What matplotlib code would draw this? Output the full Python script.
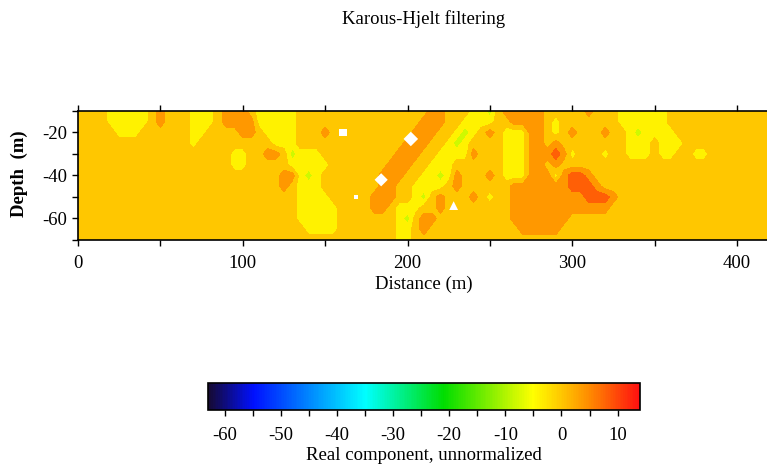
import numpy as np
import matplotlib
matplotlib.use('Agg')
import matplotlib.pyplot as plt
from matplotlib.colors import LinearSegmentedColormap, Normalize
from matplotlib.cm import ScalarMappable
from matplotlib.ticker import MultipleLocator

plt.rcParams['font.family'] = ['Liberation Serif', 'DejaVu Serif']
plt.rcParams['axes.unicode_minus'] = False

# grid of the section (m)
distance = np.arange(0, 425, 5)
depth = np.arange(-10, -75, -5)

# value of each colour class
code_value = {'y': -4, 'g': -8, 'o': 4, 'r': 8, 'R': 12}

# anomalies per depth row: (from x, to x, class); everything else is background (~0)
row_m10 = [(20, 40, 'y'), (50, 50, 'o'), (70, 80, 'y'), (90, 100, 'o'), (110, 130, 'y'),
           (215, 220, 'o'), (240, 245, 'y'), (250, 250, 'g'), (260, 280, 'o'),
           (310, 310, 'o'), (330, 355, 'y')]
row_m15 = [(20, 40, 'y'), (50, 50, 'o'), (70, 80, 'y'), (90, 105, 'o'), (110, 130, 'y'),
           (210, 220, 'o'), (235, 250, 'y'), (265, 280, 'o'), (290, 290, 'y'),
           (330, 355, 'y')]
row_m20 = [(25, 35, 'y'), (70, 75, 'y'), (100, 105, 'o'), (115, 130, 'y'), (150, 150, 'o'),
           (205, 215, 'o'), (230, 240, 'y'), (235, 235, 'g'), (250, 250, 'o'),
           (260, 270, 'y'), (275, 280, 'o'), (290, 290, 'y'), (300, 300, 'o'),
           (320, 320, 'o'), (335, 360, 'y'), (340, 340, 'g')]
row_m25 = [(70, 70, 'y'), (120, 130, 'y'), (200, 210, 'o'), (225, 235, 'y'), (230, 230, 'g'),
           (260, 270, 'y'), (275, 280, 'o'), (290, 290, 'o'), (335, 345, 'y'),
           (355, 365, 'y')]
row_m30 = [(95, 100, 'y'), (115, 120, 'o'), (130, 145, 'y'), (130, 130, 'g'), (195, 205, 'o'),
           (220, 235, 'y'), (240, 240, 'o'), (260, 270, 'y'), (275, 285, 'o'),
           (290, 290, 'r'), (295, 295, 'o'), (300, 300, 'y'), (320, 320, 'y'),
           (335, 345, 'y'), (355, 360, 'y'), (375, 380, 'y')]
row_m35 = [(95, 100, 'y'), (130, 150, 'y'), (190, 200, 'o'), (215, 225, 'y'), (260, 270, 'y'),
           (275, 280, 'o'), (290, 290, 'o')]
row_m40 = [(125, 130, 'o'), (135, 145, 'y'), (140, 140, 'g'), (185, 195, 'o'), (210, 225, 'y'),
           (220, 220, 'g'), (230, 230, 'o'), (250, 250, 'o'), (260, 270, 'y'),
           (275, 285, 'o'), (290, 290, 'y'), (295, 295, 'o'), (300, 305, 'r'),
           (310, 310, 'o')]
row_m45 = [(125, 125, 'o'), (135, 145, 'y'), (185, 190, 'o'), (205, 220, 'y'), (230, 230, 'o'),
           (265, 295, 'o'), (300, 310, 'r'), (315, 315, 'o')]
row_m50 = [(135, 150, 'y'), (180, 190, 'o'), (205, 205, 'y'), (210, 210, 'g'), (220, 220, 'o'),
           (240, 240, 'o'), (250, 250, 'y'), (265, 305, 'o'), (310, 320, 'r'),
           (325, 325, 'o')]
row_m55 = [(135, 155, 'y'), (180, 185, 'o'), (195, 205, 'y'), (220, 220, 'o'), (265, 320, 'o')]
row_m60 = [(135, 155, 'y'), (195, 195, 'y'), (200, 200, 'g'), (210, 215, 'o'), (265, 295, 'o')]
row_m65 = [(140, 155, 'y'), (195, 200, 'y'), (210, 210, 'o'), (270, 290, 'o')]
row_m70 = [(195, 200, 'y')]

rows = [row_m10, row_m15, row_m20, row_m25, row_m30, row_m35, row_m40,
        row_m45, row_m50, row_m55, row_m60, row_m65, row_m70]

# blanked (no data) spots
blank_x = [161, 184, 169, 202, 228]
blank_d = [-20, -42, -50, -23, -54]

field = np.zeros((len(depth), len(distance)))
for j, runs in enumerate(rows):
    for x0, x1, c in runs:
        field[j, (distance >= x0) & (distance <= x1)] = code_value[c]

# colour scale
vmin, vmax = -63, 14
nodes = [(-63, '#160a32'), (-55, '#0010ff'), (-35, '#00ffff'), (-21, '#00dd00'),
         (-5, '#ffff00'), (0, '#ffc800'), (5, '#ff8c00'), (14, '#ff1010')]
cmap = LinearSegmentedColormap.from_list(
    'kh', [((v - vmin) / (vmax - vmin), c) for v, c in nodes])
norm = Normalize(vmin=vmin, vmax=vmax)
levels = [-14, -10, -6, -2, 2, 6, 10, 14]

fig = plt.figure(figsize=(7.67, 4.68), dpi=100)
ax = fig.add_axes([78 / 767, 1 - 240 / 468, 692 / 767, 129 / 468])
ax.contourf(distance, depth, field, levels=levels, cmap=cmap, norm=norm)

blank_marker = ['s', 'D', 's', 'D', '^']
blank_size = [30, 45, 8, 55, 40]
for bx, bd, m, s in zip(blank_x, blank_d, blank_marker, blank_size):
    ax.scatter(bx, bd, marker=m, s=s, c='white', edgecolors='none', zorder=3)

ax.set_xlim(0, 420)
ax.set_ylim(-70, -10)
ax.xaxis.set_major_locator(MultipleLocator(100))
ax.xaxis.set_minor_locator(MultipleLocator(50))
ax.yaxis.set_minor_locator(MultipleLocator(10))
ax.set_yticks([-20, -40, -60])
ax.tick_params(which='both', direction='out', length=4.5, width=1,
               top=True, labelsize=13.5)
ax.tick_params(axis='x', pad=6)
ax.tick_params(axis='y', pad=3)
for sp in ax.spines.values():
    sp.set_linewidth(1.2)

fig.text(424 / 767, 1 - 19 / 468, 'Karous-Hjelt filtering', ha='center', va='center',
         fontsize=13.5)
fig.text(424 / 767, 1 - 284 / 468, 'Distance (m)', ha='center', va='center',
         fontsize=13.5)
fig.text(19 / 767, 1 - 174 / 468, 'Depth  (m)', ha='center', va='center',
         rotation=90, fontsize=13.5, fontweight='bold')

# colour bar
cax = fig.add_axes([208 / 767, 1 - 410 / 468, 432 / 767, 27 / 468])
sm = ScalarMappable(norm=norm, cmap=cmap)
cb = fig.colorbar(sm, cax=cax, orientation='horizontal')
cb.set_ticks(list(range(-60, 11, 10)))
cax.xaxis.set_minor_locator(MultipleLocator(5))
cax.tick_params(which='both', direction='out', length=4.5, width=1, labelsize=13.5, pad=8)
cb.outline.set_linewidth(1.2)
fig.text(424 / 767, 1 - 455 / 468, 'Real component, unnormalized', ha='center',
         va='center', fontsize=13.5)

fig.savefig('out.png', dpi=100)
